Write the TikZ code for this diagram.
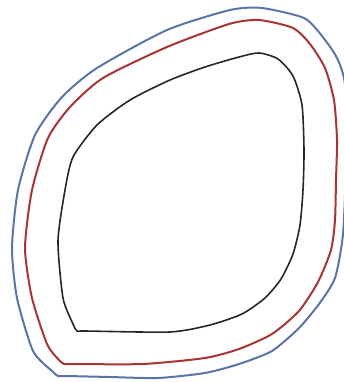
\documentclass[tikz,border=0pt]{standalone}
\usepackage{xcolor}
\definecolor{outerblue}{HTML}{5A74A6}
\definecolor{midred}{HTML}{A83434}
\usepackage{tikz}

\begin{document}
\begin{tikzpicture}[
  x=1pt,y=-1pt,
  contour/.style={line width=2pt,line join=round},
  outerline/.style={contour,draw=outerblue},
  midline/.style={contour,draw=midred},
  innerline/.style={contour,draw=black!85,line width=1.6pt}]
\useasboundingbox (0,0) rectangle (344,382);
% outer contour
\draw[outerline] plot[smooth cycle,tension=0.4] coordinates {
  (52,371) (58,376) (66,376) (110,377) (158,378) (205,373) (239,364) (272,351) (299,328) (319,304)
  (335,278) (343,234) (346,160) (345,85) (337,58) (322,36) (304,18)
  (262,8) (230,10) (167,30) (97,68) (62,97) (35,135) (18,190) (12,248) (17,298) (33,351)};
% middle contour
\draw[midline] plot[smooth cycle,tension=0.4] coordinates {
  (58,359) (64,364) (72,364) (143,364) (205,358) (239,349) (272,334) (299,311)
  (318,282) (331,250) (335,220) (336,180) (337,140) (334,100) (325,68) (310,44) (293,28)
  (259,20) (229,24) (167,47) (103,78) (70,107) (48,138) (32,190) (25,248) (32,298) (47,344)};
% inner contour
\draw[innerline] plot[smooth cycle,tension=0.4] coordinates {
  (73,324) (77,331) (85,331) (170,332) (210,325) (242,314) (265,298) (281,279) (293,254) (300,225)
  (303,190) (304,150) (302,105) (293,76) (278,59) (259,53) (239,57)
  (205,67) (170,80) (130,100) (97,125) (73,157) (65,190) (58,241) (63,298)};
\end{tikzpicture}
\end{document}
